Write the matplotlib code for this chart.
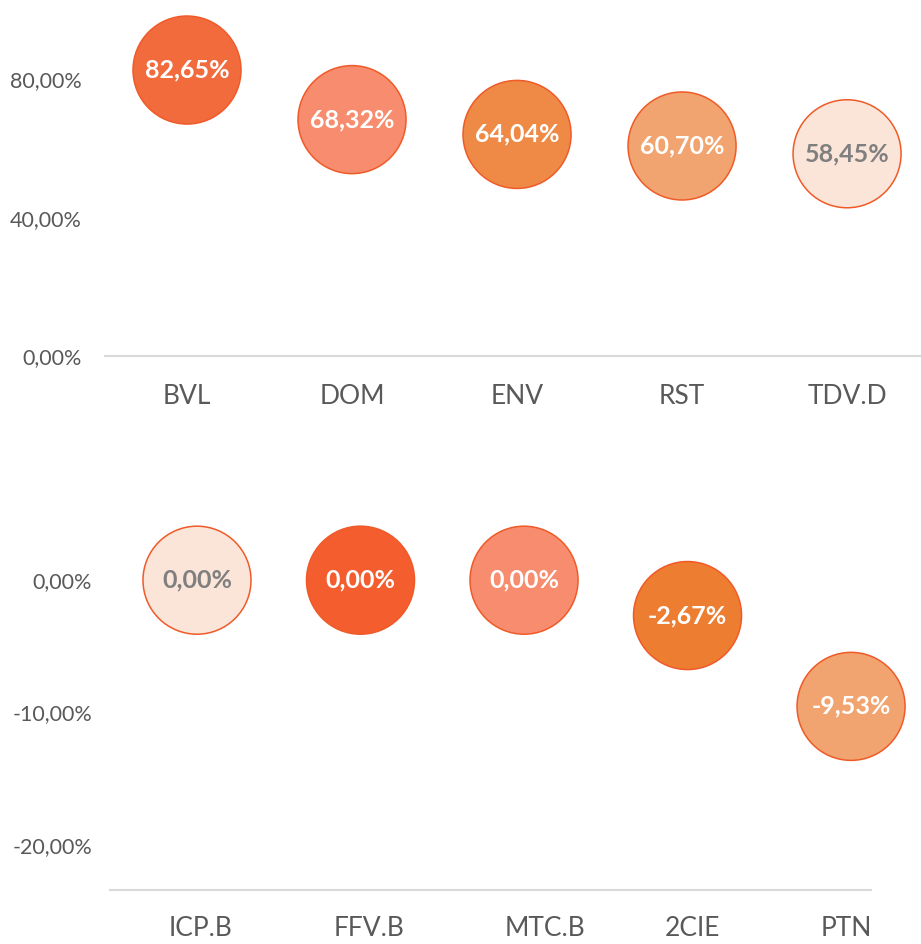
import matplotlib.pyplot as plt
from matplotlib.ticker import FuncFormatter

# top panel
top_names = ["BVL", "DOM", "ENV", "RST", "TDV.D"]
top_values = [82.65, 68.32, 64.04, 60.70, 58.45]
top_ticks = [0, 40, 80]

# bottom panel
bot_names = ["ICP.B", "FFV.B", "MTC.B", "2CIE", "PTN"]
bot_values = [0.00, 0.00, 0.00, -2.67, -9.53]
bot_ticks = [-20, -10, 0]

top_colors = ["#F26B3D", "#F78D6E", "#EE8A45", "#F1A46F", "#FBE5D8"]
bot_colors = ["#FBE5D8", "#F45D2D", "#F78D6E", "#ED7D31", "#F1A46F"]
top_text = ["white", "white", "white", "white", "#7F7F7F"]
bot_text = ["#7F7F7F", "white", "white", "white", "white"]

# bottom category labels sit a little off their bubbles in the original
bot_label_shift = [0.02, 0.05, 0.13, 0.03, -0.03]

EDGE = "#F05A28"
AXIS = "#D9D9D9"
TICK = "#595959"
FONT = "Lato"

W, H = 921, 944
fig = plt.figure(figsize=(W / 100, H / 100), dpi=100)


def pct(v, _=None):
    return f"{v:.2f}%".replace(".", ",")


def panel(rect, names, values, colors, tcolors, ticks, xlim, ylim, ypad, xpad,
          shift=None):
    x0, y0, x1, y1 = rect  # pixel box, y measured from the top
    ax = fig.add_axes([x0 / W, 1 - y1 / H, (x1 - x0) / W, (y1 - y0) / H])
    xs = list(range(1, len(names) + 1))
    ax.scatter(xs, values, s=6050, c=colors, edgecolors=EDGE, linewidths=1.1,
               zorder=3, clip_on=False)
    for x, v, tc in zip(xs, values, tcolors):
        ax.text(x, v, pct(v), ha="center", va="center", color=tc, fontsize=18,
                fontweight="bold", family=FONT, zorder=4)
    ax.set_xlim(*xlim)
    ax.set_ylim(*ylim)
    shift = shift or [0] * len(xs)
    ax.set_xticks([x + d for x, d in zip(xs, shift)])
    ax.set_xticklabels(names, fontsize=19, color=TICK, family=FONT)
    ax.set_yticks(ticks)
    ax.yaxis.set_major_formatter(FuncFormatter(pct))
    for lab in ax.get_yticklabels():
        lab.set_family(FONT)
        lab.set_fontsize(15.5)
        lab.set_color(TICK)
    ax.tick_params(axis="both", length=0)
    ax.tick_params(axis="y", pad=ypad)
    ax.tick_params(axis="x", pad=xpad)
    for s in ["top", "right", "left"]:
        ax.spines[s].set_visible(False)
    ax.spines["bottom"].set_color(AXIS)
    ax.spines["bottom"].set_linewidth(1.5)
    ax.set_facecolor("none")
    return ax


panel((105, 10, 921, 356), top_names, top_values, top_colors, top_text, top_ticks,
      (0.503, 5.448), (0, 100), 17, 20)
panel((110, 514, 871, 890), bot_names, bot_values, bot_colors, bot_text, bot_ticks,
      (0.468, 5.122), (-23.4, 5), 13, 19, bot_label_shift)

fig.savefig("out.png", dpi=100, facecolor="white")
